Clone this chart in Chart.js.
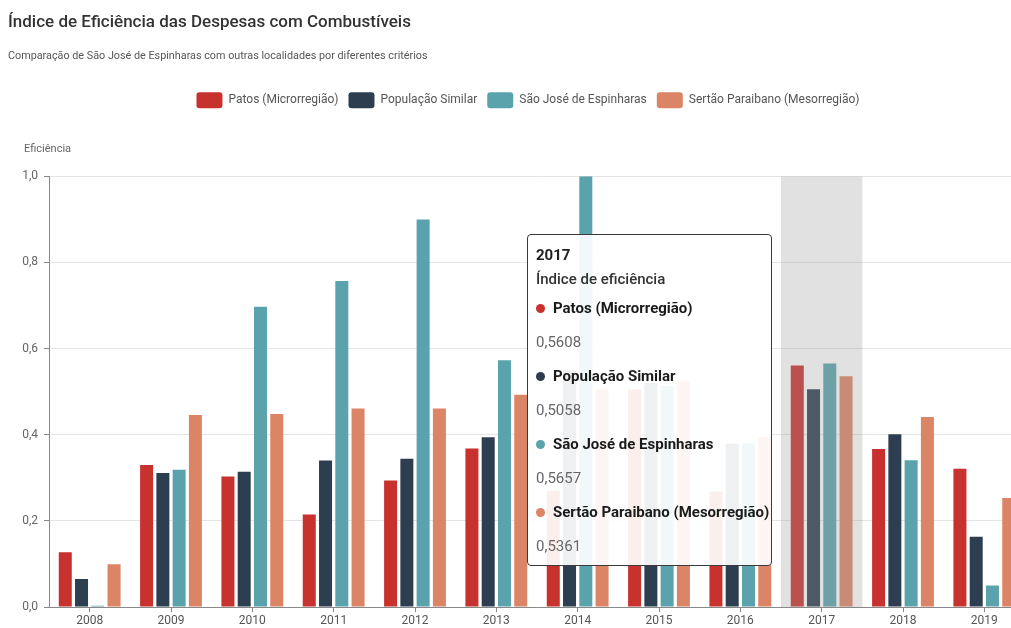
<!DOCTYPE html>
<html lang="pt-BR">
<head>
<meta charset="utf-8">
<title>Índice de Eficiência das Despesas com Combustíveis</title>
<script src="https://cdn.jsdelivr.net/npm/chart.js@4.4.1/dist/chart.umd.min.js"></script>
<style>
  html, body { margin: 0; padding: 0; background: #fff; overflow: hidden; }
  #wrap { position: relative; width: 1048px; height: 628px; }
  #tip { position: absolute; display: none; background: rgba(255,255,255,0.92); border: 1px solid #3a3a3a;
         border-radius: 4px; padding: 8px 2px 2px 8px; font-family: Roboto, sans-serif; white-space: nowrap;
         pointer-events: none; }
  #tip .t1 { font-weight: 700; font-size: 15px; color: #1e1e1e; line-height: 24px; }
  #tip .t2 { font-weight: 500; font-size: 15px; color: #333; line-height: 24px; }
  #tip .lab { font-weight: 700; font-size: 15px; color: #1a1a1a; line-height: 34px; }
  #tip .val { font-size: 15px; color: #666; line-height: 34px; }
  #tip .dot { display: inline-block; width: 9px; height: 9px; border-radius: 50%; margin-right: 8px; }
</style>
</head>
<body>
<div id="wrap"><canvas id="grafico"></canvas><div id="tip"></div></div>
<script>
// dados
const anos = ['2008', '2009', '2010', '2011', '2012', '2013', '2014', '2015', '2016', '2017', '2018', '2019'];
const series = ['Patos (Microrregião)', 'População Similar', 'São José de Espinharas', 'Sertão Paraibano (Mesorregião)'];
const patos = [0.127, 0.330, 0.303, 0.215, 0.294, 0.368, 0.270, 0.505, 0.268, 0.5608, 0.367, 0.321];
const populacaoSimilar = [0.065, 0.311, 0.314, 0.340, 0.344, 0.394, 0.550, 0.520, 0.379, 0.5058, 0.401, 0.163];
const saoJose = [0.003, 0.319, 0.697, 0.757, 0.900, 0.573, 1.000, 0.513, 0.380, 0.5657, 0.341, 0.050];
const sertao = [0.099, 0.446, 0.448, 0.461, 0.461, 0.493, 0.505, 0.524, 0.395, 0.5361, 0.441, 0.253];
const anoDestaque = '2017';

const valores = [patos, populacaoSimilar, saoJose, sertao];
const cores = ['#c8322e', '#2c3e50', '#5aa2ac', '#dc8466'];

Chart.defaults.font.family = 'Roboto, sans-serif';
Chart.defaults.color = '#666';

const fmt = (v, d) => v.toFixed(d).replace('.', ',');

function meiaCategoria(x) {
  return (x.getPixelForTick(1) - x.getPixelForTick(0)) / 2;
}

// faixa cinza sobre o ano selecionado
const destaque = {
  id: 'destaque',
  afterDatasetsDraw(chart) {
    const x = chart.scales.x;
    const i = anos.indexOf(anoDestaque);
    const half = meiaCategoria(x);
    const c = x.getPixelForValue(i);
    const { top, bottom } = chart.chartArea;
    const ctx = chart.ctx;
    ctx.save();
    ctx.fillStyle = 'rgba(157,157,157,0.3)';
    ctx.fillRect(c - half, top, half * 2, bottom - top);
    ctx.restore();
  }
};

// rótulo do eixo y, na horizontal acima do eixo
const rotuloEixo = {
  id: 'rotuloEixo',
  afterDraw(chart) {
    const a = chart.chartArea;
    const ctx = chart.ctx;
    ctx.save();
    ctx.font = '11px Roboto, sans-serif';
    ctx.fillStyle = '#666';
    ctx.textBaseline = 'middle';
    ctx.fillText('Eficiência', a.left - 25, a.top - 27);
    ctx.restore();
  }
};

function tooltipExterno({ chart, tooltip }) {
  const el = document.getElementById('tip');
  if (!tooltip.dataPoints || !tooltip.dataPoints.length || tooltip.opacity === 0) {
    el.style.display = 'none';
    return;
  }
  const dp = tooltip.dataPoints;
  let html = '<div class="t1">' + dp[0].label + '</div><div class="t2">Índice de eficiência</div>';
  dp.forEach(p => {
    html += '<div class="lab"><span class="dot" style="background:' + p.dataset.backgroundColor + '"></span>' +
      p.dataset.label + '</div><div class="val">' + fmt(p.raw, 4) + '</div>';
  });
  el.innerHTML = html;
  el.style.display = 'block';
  const x = chart.scales.x;
  const left = x.getPixelForValue(dp[0].dataIndex) - meiaCategoria(x) - 9 - el.offsetWidth;
  el.style.left = left + 'px';
  el.style.top = (chart.chartArea.top + 58) + 'px';
}

const grafico = new Chart(document.getElementById('grafico'), {
  type: 'bar',
  data: {
    labels: anos,
    datasets: series.map((nome, k) => ({
      label: nome,
      data: valores[k],
      backgroundColor: cores[k],
      hoverBackgroundColor: cores[k],
      borderWidth: 0,
      categoryPercentage: 0.8,
      barPercentage: 0.8
    }))
  },
  options: {
    responsive: true,
    maintainAspectRatio: false,
    animation: false,
    devicePixelRatio: 1,
    layout: { padding: { left: 8, right: 0, top: 0, bottom: 0 } },
    interaction: { mode: 'index', intersect: false },
    plugins: {
      title: {
        display: true,
        text: 'Índice de Eficiência das Despesas com Combustíveis',
        align: 'start',
        color: '#333',
        font: { size: 17, weight: '500' },
        padding: { top: 13, bottom: 0 }
      },
      subtitle: {
        display: true,
        text: 'Comparação de São José de Espinharas com outras localidades por diferentes critérios',
        align: 'start',
        color: '#555',
        font: { size: 10.8 },
        padding: { top: 16, bottom: 20 }
      },
      legend: {
        position: 'top',
        align: 'center',
        labels: {
          boxWidth: 26,
          boxHeight: 16,
          padding: 10,
          useBorderRadius: true,
          borderRadius: 3,
          color: '#555',
          font: { size: 12 }
        }
      },
      tooltip: { enabled: false, external: tooltipExterno }
    },
    scales: {
      x: {
        grid: { display: true, drawOnChartArea: false, offset: false, tickLength: 5, color: '#888' },
        border: { display: true, color: '#888' },
        ticks: { color: '#555', font: { size: 12 }, padding: 2, maxRotation: 0 },
        afterFit: s => { s.height = 21; }
      },
      x2: {
        type: 'category',
        position: 'top',
        grid: { display: false },
        border: { display: false },
        ticks: { display: false },
        afterFit: s => { s.height = 58; }
      },
      y: {
        min: 0,
        max: 1,
        ticks: { stepSize: 0.2, color: '#666', font: { size: 12 }, padding: 6, callback: v => fmt(v, 1) },
        grid: { color: '#e4e4e4', tickColor: '#888', tickLength: 5 },
        border: { display: true, color: '#888' },
        afterFit: s => { s.width = 41; }
      },
      y2: {
        type: 'linear',
        position: 'right',
        grid: { display: false },
        border: { display: false },
        ticks: { display: false },
        afterFit: s => { s.width = 23; }
      }
    }
  },
  plugins: [destaque, rotuloEixo]
});

const iDestaque = anos.indexOf(anoDestaque);
const ativos = grafico.data.datasets.map((d, k) => ({ datasetIndex: k, index: iDestaque }));
grafico.tooltip.setActiveElements(ativos, {
  x: grafico.scales.x.getPixelForValue(iDestaque),
  y: grafico.chartArea.top + 100
});
</script>
</body>
</html>
